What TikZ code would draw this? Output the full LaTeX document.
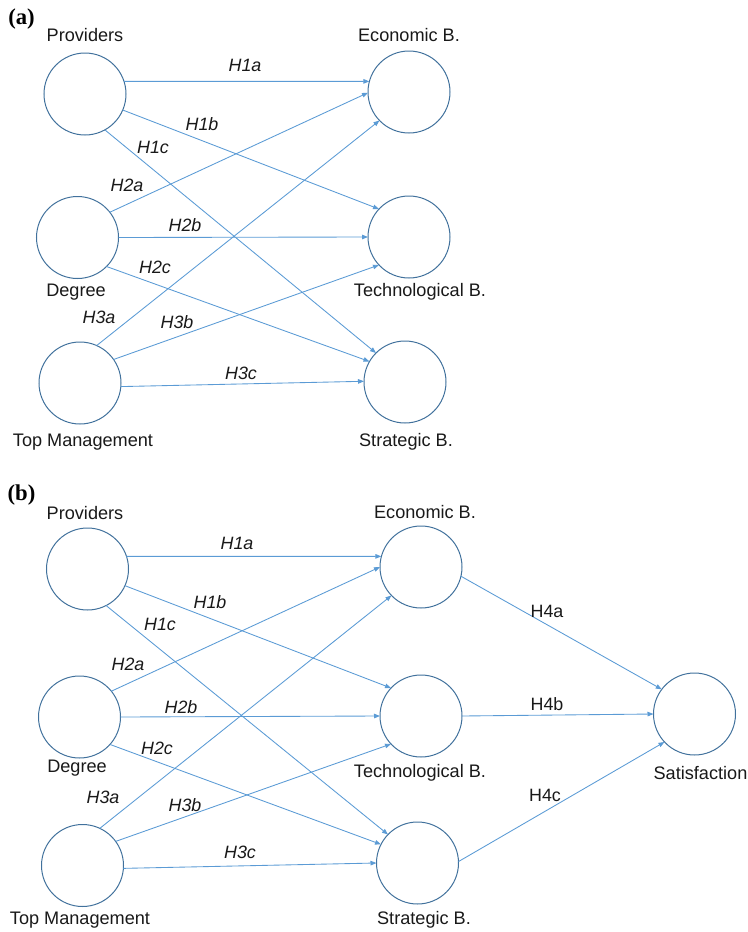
\documentclass[tikz,border=0pt]{standalone}
\usepackage{fontspec}
\setmainfont{Liberation Sans}
\newfontfamily\serifbold{Liberation Serif}
\usetikzlibrary{arrows.meta}
\definecolor{ringblue}{HTML}{41719C}
\definecolor{lineblue}{HTML}{5B9BD5}
\tikzset{
  latent/.style={circle, draw=ringblue, line width=0.75pt, minimum size=61.5pt, inner sep=0pt, outer sep=0pt},
  lbl/.style={font=\fontsize{13.6}{15}\selectfont, inner sep=0pt, text=black!90},
  hyp/.style={font=\fontsize{13.4}{15}\selectfont\itshape, inner sep=0pt, text=black!90},
  hypup/.style={font=\fontsize{13.4}{15}\selectfont, inner sep=0pt, text=black!90},
  panel/.style={font=\serifbold\bfseries\fontsize{17}{19}\selectfont, inner sep=0pt},
  path/.style={draw=lineblue, line width=0.65pt, -{Triangle[length=4.5pt,width=3.4pt]}}
}
\begin{document}
\begin{tikzpicture}[x=0.75pt,y=-0.75pt]
\useasboundingbox (0,0) rectangle (748,932);
% ---------------- panel (a) ----------------
\node[panel] (pa) at (21.5,19) {(a)};
\node[latent] (Pa) at (85,94) {};
\node[latent] (Da) at (77.5,237.5) {};
\node[latent] (Ta) at (80,383) {};
\node[latent] (Ea) at (409,92) {};
\node[latent] (Ka) at (409,237) {};
\node[latent] (Sa) at (405,382) {};
\node[lbl] (lPa) at (85,35) {Providers};
\node[lbl] (lDa) at (76,292) {Degree};
\node[lbl] (lTa) at (83,442) {Top Management};
\node[lbl] (lEa) at (409,35) {Economic B.};
\node[lbl] (lKa) at (420,292) {Technological B.};
\node[lbl] (lSa) at (406,442) {Strategic B.};
\draw[path] (Pa.18) -- (Ea.165);
\draw[path] (Pa.-23) -- (Ka.137);
\draw[path] (Pa.-61) -- (Sa.135);
\draw[path] (Da.38) -- (Ea.181);
\draw[path] (Da.0) -- (Ka.180);
\draw[path] (Da.-45) -- (Sa.150);
\draw[path] (Ta.66) -- (Ea.224);
\draw[path] (Ta.35.5) -- (Ka.223);
\draw[path] (Ta.-5) -- (Sa.179);
\node[hyp] (h1aa) at (245,65) {H1a};
\node[hyp] (h1ba) at (202,124) {H1b};
\node[hyp] (h1ca) at (153,147) {H1c};
\node[hyp] (h2aa) at (127,185) {H2a};
\node[hyp] (h2ba) at (185,225) {H2b};
\node[hyp] (h2ca) at (155,267) {H2c};
\node[hyp] (h3aa) at (99,317) {H3a};
\node[hyp] (h3ba) at (177,322) {H3b};
\node[hyp] (h3ca) at (241,373) {H3c};
% ---------------- panel (b) ----------------
\node[panel] (pb) at (21.5,495) {(b)};
\node[latent] (Pb) at (87.5,569) {};
\node[latent] (Db) at (79.5,717) {};
\node[latent] (Tb) at (82.5,865.5) {};
\node[latent] (Eb) at (421,567) {};
\node[latent] (Kb) at (421,716) {};
\node[latent] (Sb) at (417.5,863) {};
\node[latent] (Zb) at (694.5,714) {};
\node[lbl] (lPb) at (85,513) {Providers};
\node[lbl] (lDb) at (77,768) {Degree};
\node[lbl] (lTb) at (80,920) {Top Management};
\node[lbl] (lEb) at (425,512) {Economic B.};
\node[lbl] (lKb) at (420,773) {Technological B.};
\node[lbl] (lSb) at (424,920) {Strategic B.};
\node[lbl] (lZb) at (700.5,773) {Satisfaction};
\draw[path] (Pb.18) -- (Eb.165);
\draw[path] (Pb.-24.5) -- (Kb.137);
\draw[path] (Pb.-63) -- (Sb.136);
\draw[path] (Db.39) -- (Eb.180);
\draw[path] (Db.0) -- (Kb.180);
\draw[path] (Db.-42) -- (Sb.153);
\draw[path] (Tb.65.5) -- (Eb.224);
\draw[path] (Tb.36) -- (Kb.223);
\draw[path] (Tb.-4.6) -- (Sb.180);
\draw[path] (Eb.-13) -- (Zb.143);
\draw[path] (Kb.0) -- (Zb.180);
\draw[path] (Sb.2) -- (Zb.223);
\node[hyp] (h1ab) at (237,543) {H1a};
\node[hyp] (h1bb) at (210,602) {H1b};
\node[hyp] (h1cb) at (160,624) {H1c};
\node[hyp] (h2ab) at (128,664) {H2a};
\node[hyp] (h2bb) at (181,707) {H2b};
\node[hyp] (h2cb) at (157,748) {H2c};
\node[hyp] (h3ab) at (103,797) {H3a};
\node[hyp] (h3bb) at (185,805) {H3b};
\node[hyp] (h3cb) at (240,852) {H3c};
\node[hypup] (h4ab) at (547,611) {H4a};
\node[hypup] (h4bb) at (547,704) {H4b};
\node[hypup] (h4cb) at (545,795) {H4c};
\end{tikzpicture}
\end{document}
